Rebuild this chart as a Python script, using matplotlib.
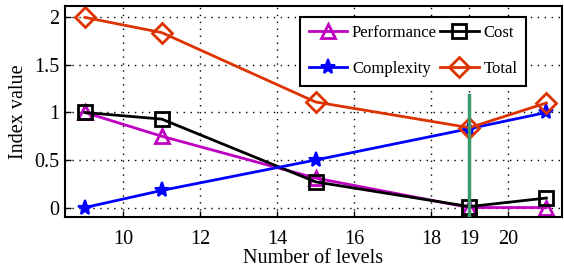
import matplotlib
matplotlib.use("Agg")
import matplotlib.pyplot as plt

levels = [9, 11, 15, 19, 21]
performance = [1.0, 0.75, 0.31, 0.0, 0.0]
cost = [1.0, 0.93, 0.27, 0.01, 0.10]
complexity = [0.0, 0.18, 0.50, 0.83, 1.0]
total = [2.0, 1.84, 1.11, 0.84, 1.10]
xticks = [10, 12, 14, 16, 18, 19, 20]
yticks = [0, 0.5, 1, 1.5, 2]
ytick_labels = ["0", "0.5", "1", "1.5", "2"]
chosen = 19

plt.rcParams["font.family"] = ["Liberation Serif", "DejaVu Serif"]

fig = plt.figure(figsize=(5.64, 2.72), dpi=100)
ax = fig.add_axes([0.115, 0.202, 0.881, 0.776])

kw = dict(lw=2, ms=10, mew=2, mfc="none")
hp, = ax.plot(levels, performance, color="#c000c0", marker="^", label="Performance", **kw)
hc, = ax.plot(levels, cost, color="black", marker="s", label="Cost", **kw)
hx, = ax.plot(levels, complexity, color="#0000ff", marker="*", mfc="#0000ff", lw=2, ms=11,
              mew=1.5, label="Complexity")
ht, = ax.plot(levels, total, color="#dd3300", marker="D", label="Total", **kw)
ax.plot([chosen, chosen], [-0.1, 1.18], color="#3a9a6a", lw=2.5, zorder=5)

ax.set_xlim(8.48, 21.4)
ax.set_ylim(-0.1, 2.12)
ax.set_xticks(xticks)
ax.set_xticklabels([str(t) for t in xticks])
ax.set_yticks(yticks)
ax.set_yticklabels(ytick_labels)
ax.tick_params(direction="in", labelsize=14.5, length=4, width=1)
ax.tick_params(axis="x", pad=9)
ax.tick_params(axis="y", pad=4)
ax.grid(True, linestyle=(0, (1, 4)), color="black", lw=1)
for s in ax.spines.values():
    s.set_linewidth(1.5)
ax.set_xlabel("Number of levels", fontsize=14.5, labelpad=0)
ax.set_ylabel("Index value", fontsize=14.5, labelpad=4)

# matplotlib fills legend columns first; reorder so rows read Performance/Cost, Complexity/Total
leg = ax.legend([hp, hx, hc, ht], ["Performance", "Complexity", "Cost", "Total"],
                ncol=2, loc="upper right", bbox_to_anchor=(0.928, 0.948), fontsize=12,
                fancybox=False, edgecolor="black", framealpha=1, handlelength=2.3,
                columnspacing=0.2, handletextpad=0.3, borderpad=0.5, labelspacing=1.2,
                borderaxespad=0)
leg.get_frame().set_linewidth(1.5)

fig.savefig("out.png", dpi=100)
